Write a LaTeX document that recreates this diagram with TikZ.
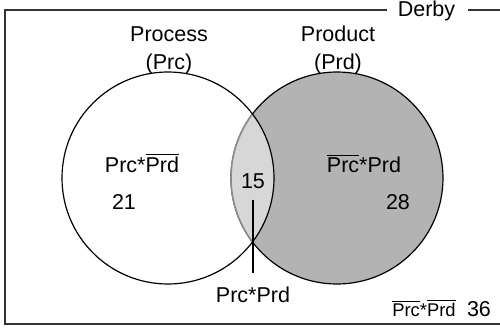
\documentclass[tikz,border=0pt]{standalone}
\usepackage{fontspec}
\setmainfont{Liberation Sans}
\newcommand{\ovl}[1]{\ensuremath{\overline{\mbox{#1}}}}
\definecolor{dgray}{HTML}{B3B3B3}
\definecolor{lgray}{HTML}{D7D7D7}
\definecolor{mgray}{HTML}{8C8C8C}
\definecolor{framec}{HTML}{333333}
\begin{document}
\begin{tikzpicture}[x=0.5pt,y=-0.5pt,
  lbl/.style={font=\fontsize{10.75}{13}\selectfont, inner sep=0pt, anchor=base},
  small/.style={font=\fontsize{9.2}{11}\selectfont, inner sep=0pt, anchor=base},
  frameline/.style={draw=framec, line width=0.8pt},
  circ/.style={draw=black, line width=0.6pt},
  pointer/.style={draw=black, line width=0.6pt}]
\useasboundingbox (0,0) rectangle (500,332);
\coordinate (cl) at (168,178);
\coordinate (cr) at (337,178);
% right circle
\fill[dgray] (cr) circle[radius=106];
\draw[circ] (cr) circle[radius=106];
\begin{scope}
  \clip (cl) circle[radius=106];
  \fill[lgray] (cr) circle[radius=106];
  \draw[draw=mgray, line width=0.8pt] (cr) circle[radius=106];
\end{scope}
\draw[circ] (cl) circle[radius=106];
% frame
\node[lbl] (derby) at (426.5,17) {Derby};
\draw[frameline] (387,10) -- (5,10) -- (5,324) -- (500,324);
\draw[frameline] (468,10) -- (500,10);
% titles
\node[lbl] (proc) at (169,41) {Process};
\node[lbl] (prc) at (169,69) {(Prc)};
\node[lbl] (prod) at (338,41) {Product};
\node[lbl] (prd) at (338,69) {(Prd)};
% region labels
\node[lbl] (lreg) at (142,173) {Prc*\ovl{Prd}};
\node[lbl] (n21) at (124,210) {21};
\node[lbl] (n15) at (253,189) {15};
\node[lbl] (rreg) at (364,173) {\ovl{Prc}*Prd};
\node[lbl] (n28) at (398,210) {28};
\node[lbl] (both) at (253,303) {Prc*Prd};
\coordinate (p1) at (253,200);
\coordinate (p2) at (253,273);
\draw[pointer] (p1) -- (p2);
\node[small] (none) at (424,317) {\ovl{Prc}*\ovl{Prd}};
\node[lbl] (n36) at (479,317) {36};
\end{tikzpicture}
\end{document}
